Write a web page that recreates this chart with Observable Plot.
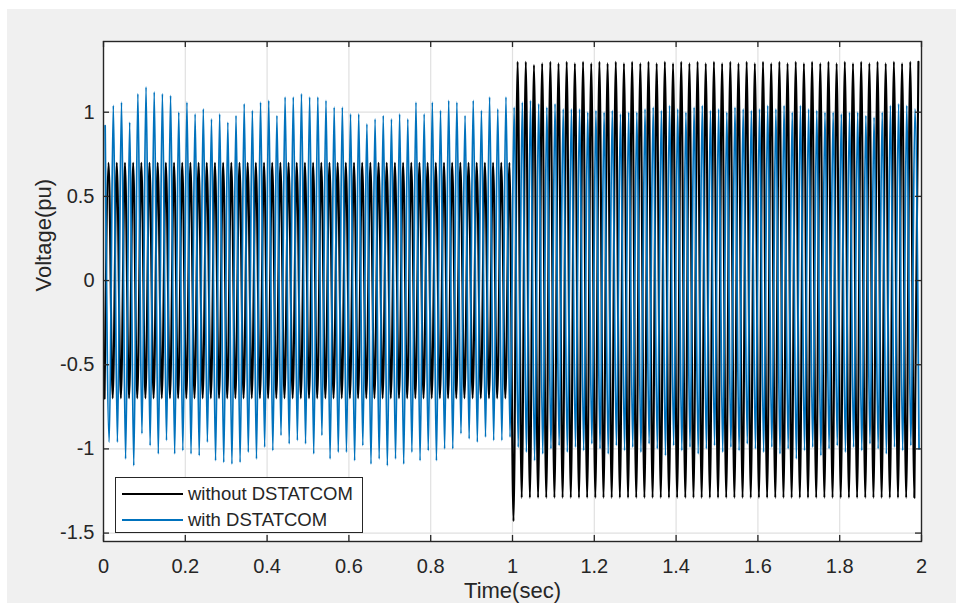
<!DOCTYPE html>
<html>
<head>
<meta charset="utf-8">
<script src="https://cdn.jsdelivr.net/npm/d3@7"></script>
<script src="https://cdn.jsdelivr.net/npm/@observablehq/plot@0.6"></script>
<style>
  html, body { margin: 0; padding: 0; background: #ffffff; width: 956px; height: 603px; overflow: hidden; }
  #fig { position: absolute; left: 7px; top: 9px; right: 0; bottom: 0; background: #f0f0f0; }
  #chart { position: absolute; left: 0; top: 0; }
  #legend { position: absolute; left: 115px; top: 477px; width: 246px; height: 54px; background: #fff;
            border: 1.3px solid #262626; font-family: 'Liberation Sans', Arial, sans-serif; font-size: 18.5px; color: #262626; }
  .row { position: absolute; left: 6px; height: 20px; display: flex; align-items: center; }
  .sw { width: 61px; height: 2.5px; margin-right: 5px; }
</style>
</head>
<body>
<div id="fig"></div>
<div id="chart"></div>
<div id="legend"></div>
<script>
// ---- axis text ----
const xLabel = "Time(sec)";
const yLabel = "Voltage(pu)";
const xTicks = [0, 0.2, 0.4, 0.6, 0.8, 1, 1.2, 1.4, 1.6, 1.8, 2];
const yTicks = [-1.5, -1, -0.5, 0, 0.5, 1];
const seriesNames = ["without DSTATCOM", "with DSTATCOM"];
const seriesColors = ["#000000", "#0072BD"];

// ---- waveform sampling (50 Hz, one extreme every half period) ----
const halfPeriod = 0.01;
const blackStart = 0.0025;
const blueTopStart = 0.004;
const blueBottomStart = 0.014;

// black: successive extremes (alternating min / max)
const blackPre = [
  -0.70, 0.70, -0.70, 0.70, -0.70, 0.70, -0.70, 0.70, -0.70, 0.70,
  -0.70, 0.70, -0.70, 0.70, -0.70, 0.70, -0.70, 0.70, -0.70, 0.70,
  -0.70, 0.70, -0.70, 0.70, -0.70, 0.70, -0.70, 0.70, -0.70, 0.70,
  -0.70, 0.70, -0.70, 0.70, -0.70, 0.70, -0.70, 0.70, -0.70, 0.70,
  -0.70, 0.70, -0.70, 0.70, -0.70, 0.70, -0.70, 0.70, -0.70, 0.70,
  -0.70, 0.70, -0.70, 0.70, -0.70, 0.70, -0.70, 0.70, -0.70, 0.70,
  -0.70, 0.70, -0.70, 0.70, -0.70, 0.70, -0.70, 0.70, -0.70, 0.70,
  -0.70, 0.70, -0.70, 0.70, -0.70, 0.70, -0.70, 0.70, -0.70, 0.70,
  -0.70, 0.70, -0.70, 0.70, -0.70, 0.70, -0.70, 0.70, -0.70, 0.70,
  -0.70, 0.70, -0.70, 0.70, -0.70, 0.70, -0.70, 0.70, -0.70, 0.70
];
const blackPost = [
  -1.43, 1.30, -1.29, 1.30, -1.29, 1.28, -1.29, 1.29, -1.29, 1.30,
  -1.29, 1.29, -1.29, 1.30, -1.29, 1.29, -1.29, 1.30, -1.29, 1.29,
  -1.29, 1.30, -1.29, 1.29, -1.29, 1.30, -1.29, 1.29, -1.29, 1.30,
  -1.29, 1.29, -1.29, 1.30, -1.29, 1.29, -1.29, 1.30, -1.29, 1.29,
  -1.29, 1.30, -1.29, 1.29, -1.29, 1.30, -1.29, 1.29, -1.29, 1.30,
  -1.29, 1.29, -1.29, 1.30, -1.29, 1.29, -1.29, 1.30, -1.29, 1.29,
  -1.29, 1.30, -1.29, 1.29, -1.29, 1.30, -1.29, 1.29, -1.29, 1.30,
  -1.29, 1.29, -1.29, 1.30, -1.29, 1.29, -1.29, 1.30, -1.29, 1.29,
  -1.29, 1.30, -1.29, 1.29, -1.29, 1.30, -1.29, 1.29, -1.29, 1.30,
  -1.29, 1.29, -1.29, 1.30, -1.29, 1.29, -1.29, 1.30, -1.29, 1.30
];

// blue: positive peaks (t = 0.004, 0.024, ...) and negative peaks (t = 0.014, 0.034, ...)
const blueTops = [
  0.92, 1.04, 1.06, 0.94, 1.11, 1.15, 1.12, 1.11, 1.10, 1.00,
  1.06, 0.99, 1.02, 0.96, 0.99, 0.94, 0.98, 1.05, 1.01, 1.06,
  1.07, 0.98, 1.09, 1.09, 1.11, 1.09, 1.09, 1.07, 1.03, 1.03,
  0.99, 0.99, 0.93, 0.96, 0.98, 0.96, 0.99, 0.96, 1.06, 0.99,
  1.06, 1.01, 1.07, 1.06, 0.98, 1.07, 1.01, 1.09, 1.02, 1.09,
  1.03, 1.06, 1.07, 1.05, 1.03, 1.05, 1.02, 1.02, 1.02, 1.00,
  1.01, 1.00, 1.01, 0.99, 1.00, 1.00, 1.02, 1.03, 1.01, 1.04,
  1.02, 1.00, 1.03, 1.04, 1.01, 1.02, 1.00, 1.03, 1.02, 1.01,
  1.02, 1.04, 1.02, 1.04, 1.00, 1.04, 1.02, 1.01, 1.00, 1.00,
  0.99, 1.00, 1.00, 0.98, 0.97, 1.00, 1.04, 1.05, 1.04, 1.02
];
const blueBottoms = [
  -0.96, -0.96, -1.06, -1.10, -0.91, -0.98, -1.03, -0.95, -1.03, -1.01,
  -1.03, -1.04, -0.96, -1.07, -1.08, -1.09, -1.08, -1.02, -1.06, -0.99,
  -1.01, -0.92, -0.97, -0.95, -0.97, -1.03, -0.92, -1.06, -1.02, -1.02,
  -1.07, -0.98, -1.09, -1.06, -1.10, -1.06, -1.09, -1.02, -1.07, -1.01,
  -1.07, -1.00, -1.00, -0.91, -0.94, -0.96, -0.93, -0.95, -0.95, -0.93,
  -0.99, -1.02, -1.07, -1.03, -1.00, -0.98, -1.02, -0.99, -1.01, -0.97,
  -1.00, -1.03, -0.98, -1.01, -0.99, -1.02, -0.97, -1.00, -1.04, -0.98,
  -1.01, -0.99, -1.03, -1.00, -0.98, -1.02, -0.99, -1.01, -0.97, -1.00,
  -1.02, -0.99, -1.03, -1.00, -1.06, -1.01, -0.99, -1.04, -1.00, -0.98,
  -1.02, -0.99, -1.01, -0.97, -1.00, -1.03, -0.99, -1.01, -0.98, -1.00
];

// ---- build tables ----
const blackValues = blackPre.concat(blackPost);
const blackData = blackValues.map((v, i) => ({t: blackStart + i * halfPeriod, v}));
const blueData = [];
blueTops.forEach((v, i) => {
  blueData.push({t: blueTopStart + 2 * i * halfPeriod, v});
  blueData.push({t: blueBottomStart + 2 * i * halfPeriod, v: blueBottoms[i]});
});

const W = 956, H = 603, mL = 103, mR = 35, mT = 41, mB = 62;
const innerW = W - mL - mR, innerH = H - mT - mB;
const tickLen = 6;
const axisColor = "#262626";
const fmt = d => String(d);

const chart = Plot.plot({
  width: W, height: H,
  marginLeft: mL, marginRight: mR, marginTop: mT, marginBottom: mB,
  x: {domain: [0, 2]},
  y: {domain: [-1.55, 1.42]},
  style: {background: "transparent", fontFamily: "'Liberation Sans', Arial, sans-serif", fontSize: "20px", color: axisColor, overflow: "visible"},
  marks: [
    Plot.frame({fill: "white", stroke: null}),
    Plot.gridX(xTicks.slice(1, -1), {stroke: "#e0e0e0", strokeOpacity: 1, strokeWidth: 1.2}),
    Plot.gridY(yTicks, {stroke: "#e0e0e0", strokeOpacity: 1, strokeWidth: 1.2}),
    Plot.line(blackData, {x: "t", y: "v", stroke: seriesColors[0], strokeWidth: 2.1, curve: "monotone-x"}),
    Plot.line(blueData, {x: "t", y: "v", stroke: seriesColors[1], strokeWidth: 1.8, curve: "monotone-x"}),
    Plot.tickX(xTicks, {x: d => d, insetTop: innerH - tickLen, stroke: axisColor, strokeWidth: 1.3}),
    Plot.tickX(xTicks, {x: d => d, insetBottom: innerH - tickLen, stroke: axisColor, strokeWidth: 1.3}),
    Plot.tickY(yTicks, {y: d => d, insetRight: innerW - tickLen, stroke: axisColor, strokeWidth: 1.3}),
    Plot.tickY(yTicks, {y: d => d, insetLeft: innerW - tickLen, stroke: axisColor, strokeWidth: 1.3}),
    Plot.frame({stroke: axisColor, strokeWidth: 1.4}),
    Plot.axisX(xTicks, {tickSize: 0, tickPadding: 17, tickFormat: fmt, label: null, fontSize: 20, fill: axisColor}),
    Plot.axisY(yTicks, {tickSize: 0, tickPadding: 9, tickFormat: fmt, label: null, fontSize: 20, fill: axisColor}),
    Plot.text([xLabel], {text: d => d, frameAnchor: "bottom", dy: 56, lineAnchor: "bottom", fontSize: 22, fill: axisColor}),
    Plot.text([yLabel], {text: d => d, frameAnchor: "left", dx: -53, rotate: -90, lineAnchor: "bottom", fontSize: 22, fill: axisColor})
  ]
});
document.getElementById("chart").appendChild(chart);

// ---- legend ----
const legend = document.getElementById("legend");
seriesNames.forEach((name, i) => {
  const row = document.createElement("div");
  row.className = "row";
  row.style.top = (6 + i * 26) + "px";
  const sw = document.createElement("div");
  sw.className = "sw";
  sw.style.background = seriesColors[i];
  const tx = document.createElement("span");
  tx.textContent = name;
  row.appendChild(sw);
  row.appendChild(tx);
  legend.appendChild(row);
});
</script>
</body>
</html>
